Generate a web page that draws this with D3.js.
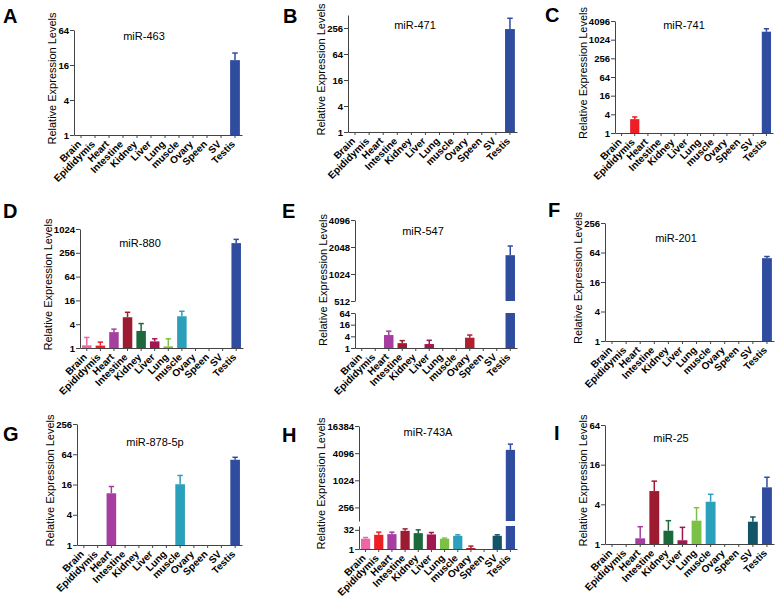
<!DOCTYPE html>
<html>
<head>
<meta charset="utf-8">
<script src="https://cdn.jsdelivr.net/npm/d3@7"></script>
<style>
  body { margin: 0; background: #fff; }
  text { font-family: "Liberation Sans", Arial, sans-serif; }
</style>
</head>
<body>
<svg id="chart" width="778" height="597"></svg>
<script>
// tissues and their bar colours
const tissues = ["Brain", "Epididymis", "Heart", "Intestine", "Kidney", "Liver", "Lung", "muscle", "Ovary", "Speen", "SV", "Testis"];
const tissueColors = ["#ec67a4", "#ec1f27", "#a63da0", "#9c1b30", "#1c6a3b", "#a1174f", "#7bc147", "#2aa0ba", "#b21f2e", "#888888", "#135467", "#2f4c9f"];

// mean expression (null = no bar) and top of the error bar
const mir463    = [null, null, null, null, null, null, null, null, null, null, null, 19.4];
const mir463Err = [null, null, null, null, null, null, null, null, null, null, null, 25.7];
const mir471    = [null, null, null, null, null, null, null, null, null, null, null, 242];
const mir471Err = [null, null, null, null, null, null, null, null, null, null, null, 430];
const mir741    = [null, 2.8, null, null, null, null, null, null, null, null, null, 1850];
const mir741Err = [null, 3.3, null, null, null, null, null, null, null, null, null, 2300];
const mir880    = [1.17, 1.15, 2.52, 6.0, 2.7, 1.47, 1.1, 6.35, null, null, null, 450];
const mir880Err = [1.85, 1.41, 3.0, 8.0, 4.15, 1.71, 1.71, 8.5, null, null, null, 560];
const mir547    = [null, null, 4.67, 1.78, null, 1.6, null, null, 3.4, null, null, 1660];
const mir547Err = [null, null, 7.4, 2.4, null, 2.5, null, null, 4.67, null, null, 2100];
const mir201    = [null, null, null, null, null, null, null, null, null, null, null, 49];
const mir201Err = [null, null, null, null, null, null, null, null, null, null, null, 53];
const mir878    = [null, null, 10.7, null, null, null, null, 16.2, null, null, null, 49.7];
const mir878Err = [null, null, 14.6, null, null, null, null, 24.2, null, null, null, 55.7];
const mir743    = [6.4, 13, 14.7, 26.7, 17.6, 13.9, 6.4, 10.9, 1.2, null, 10.9, 4840];
const mir743Err = [8, 21, 21, 38, 32, 19.8, 7.2, 13, 1.7, null, 13, 6480];
const mir25     = [null, null, 1.22, 6.36, 1.59, 1.14, 2.26, 4.38, null, null, 2.18, 7.24];
const mir25Err  = [null, null, 1.83, 9.0, 2.26, 1.79, 3.56, 5.68, null, null, 2.57, 10.3];

// y tick labels
const ticks463 = [1, 4, 16, 64];
const ticks471 = [1, 4, 16, 64, 256];
const ticks741 = [1, 4, 16, 64, 256, 1024, 4096];
const ticks880 = [1, 4, 16, 64, 256, 1024];
const ticks547Low = [1, 4, 16, 64];
const ticks547High = [512, 1024, 2048, 4096];
const ticks201 = [1, 4, 16, 64, 256];
const ticks878 = [1, 4, 16, 64, 256];
const ticks743Low = [1, 32];
const ticks743High = [256, 1024, 4096, 16384];
const ticks25 = [1, 4, 16, 64];

// panel layout
const panels = [
  { label: "A", lx: 3, ly: 23, title: "miR-463", tx: 144, ty: 40, x0: 74, x1: 242, ytx: 52,
    vals: mir463, errs: mir463Err, segs: [{ dom: [1, 64], rng: [135, 30], ticks: ticks463 }] },
  { label: "B", lx: 283, ly: 23, title: "miR-471", tx: 415, ty: 29, x0: 348, x1: 517, ytx: 326,
    vals: mir471, errs: mir471Err, segs: [{ dom: [1, 512], rng: [132, 15], ticks: ticks471 }] },
  { label: "C", lx: 545, ly: 22, title: "miR-741", tx: 684, ty: 29, x0: 615, x1: 773, ytx: 584,
    vals: mir741, errs: mir741Err, segs: [{ dom: [1, 4096], rng: [133, 21], ticks: ticks741 }] },
  { label: "D", lx: 3, ly: 218, title: "miR-880", tx: 140, ty: 247, x0: 80, x1: 243, ytx: 50,
    vals: mir880, errs: mir880Err, segs: [{ dom: [1, 1024], rng: [348, 229], ticks: ticks880 }] },
  { label: "E", lx: 282, ly: 218, title: "miR-547", tx: 423, ty: 235, x0: 355, x1: 517, ytx: 325,
    vals: mir547, errs: mir547Err, segs: [
      { dom: [1, 64], rng: [348, 313], ticks: ticks547Low },
      { dom: [512, 4096], rng: [301, 220], ticks: ticks547High }] },
  { label: "F", lx: 548, ly: 217, title: "miR-201", tx: 676, ty: 242, x0: 605, x1: 774, ytx: 581,
    vals: mir201, errs: mir201Err, segs: [{ dom: [1, 256], rng: [341, 223], ticks: ticks201 }] },
  { label: "G", lx: 3, ly: 441, title: "miR-878-5p", tx: 155, ty: 446, x0: 77, x1: 242, ytx: 52,
    vals: mir878, errs: mir878Err, segs: [{ dom: [1, 256], rng: [545, 424], ticks: ticks878 }] },
  { label: "H", lx: 282, ly: 442, title: "miR-743A", tx: 428, ty: 436, x0: 359, x1: 517, ytx: 325,
    vals: mir743, errs: mir743Err, segs: [
      { dom: [1, 64], rng: [549, 526], ticks: ticks743Low },
      { dom: [128, 16384], rng: [521, 426], ticks: ticks743High }] },
  { label: "I", lx: 554, ly: 440, title: "miR-25", tx: 671, ty: 442, x0: 605, x1: 774, ytx: 583,
    vals: mir25, errs: mir25Err, segs: [{ dom: [1, 64], rng: [544, 425], ticks: ticks25 }] }
];

var svg = d3.select("#chart");
const axisColor = "#444";

panels.forEach(function (p) {
  var g = svg.append("g");

  // panel letter
  g.append("text")
    .attr("x", p.lx).attr("y", p.ly)
    .style("font-size", "20px").style("font-weight", "bold")
    .text(p.label);

  // title
  g.append("text")
    .attr("x", p.tx).attr("y", p.ty)
    .attr("text-anchor", "middle")
    .style("font-size", "11px")
    .text(p.title);

  var x = d3.scaleBand()
    .domain(tissues)
    .range([p.x0, p.x1])
    .paddingInner(0.3)
    .paddingOuter(0.15);

  var yBottom = p.segs[0].rng[0];
  var yTop = p.segs[p.segs.length - 1].rng[1];
  var maxLabel = 0;

  p.segs.forEach(function (s, si) {
    var y = d3.scaleLog().base(2).domain(s.dom).range(s.rng);
    var lo = si === 0 ? 1 : s.dom[0];

    // bars (clipped to this axis segment)
    p.vals.forEach(function (v, i) {
      if (v == null || v <= lo) return;
      var top = Math.min(v, s.dom[1]);
      g.append("rect")
        .attr("x", x(tissues[i]))
        .attr("width", x.bandwidth())
        .attr("y", y(top))
        .attr("height", y(lo) - y(top))
        .style("fill", tissueColors[i]);
    });

    // error bars
    p.errs.forEach(function (e, i) {
      var v = p.vals[i];
      if (e == null || v == null || v < lo || v > s.dom[1]) return;
      var cx = x(tissues[i]) + x.bandwidth() / 2;
      var cap = x.bandwidth() * 0.28;
      g.append("line")
        .attr("x1", cx).attr("x2", cx)
        .attr("y1", y(v)).attr("y2", y(e))
        .style("stroke", tissueColors[i]).style("stroke-width", 1.5);
      g.append("line")
        .attr("x1", cx - cap).attr("x2", cx + cap)
        .attr("y1", y(e)).attr("y2", y(e))
        .style("stroke", tissueColors[i]).style("stroke-width", 1.5);
    });

    // y axis segment
    var ay = g.append("g")
      .attr("transform", "translate(" + p.x0 + ",0)")
      .call(d3.axisLeft(y).tickValues(s.ticks).tickFormat(d3.format("d")).tickSize(4).tickSizeOuter(0));
    ay.select(".domain").style("stroke", axisColor);
    ay.selectAll(".tick line").style("stroke", axisColor);
    ay.selectAll(".tick text")
      .attr("x", -5)
      .style("font-size", "9.5px").style("font-weight", "bold")
      .style("font-family", "'Liberation Sans', Arial, sans-serif")
      .style("fill", "#000")
      .each(function () { maxLabel = Math.max(maxLabel, this.getComputedTextLength()); });
  });

  // y axis title, kept clear of the tick labels
  var ytx = Math.min(p.ytx, p.x0 - 5 - maxLabel - 6);
  g.append("text")
    .attr("transform", "translate(" + ytx + "," + ((yBottom + yTop) / 2 - 4) + ") rotate(-90)")
    .attr("text-anchor", "middle")
    .attr("dy", "0.35em")
    .style("font-size", "11px")
    .text("Relative Expression Levels");

  // x axis
  var ax = g.append("g")
    .attr("transform", "translate(0," + yBottom + ")")
    .call(d3.axisBottom(x).tickSize(3).tickSizeOuter(0));
  ax.select(".domain").style("stroke", axisColor);
  ax.selectAll(".tick line").style("stroke", axisColor);
  ax.selectAll(".tick text")
    .attr("transform", "translate(-6,3) rotate(-45)")
    .attr("text-anchor", "end")
    .attr("dy", "0.35em")
    .attr("y", 6)
    .style("font-size", "10px").style("font-weight", "bold")
    .style("font-family", "'Liberation Sans', Arial, sans-serif")
    .style("fill", "#000");
});
</script>
</body>
</html>
